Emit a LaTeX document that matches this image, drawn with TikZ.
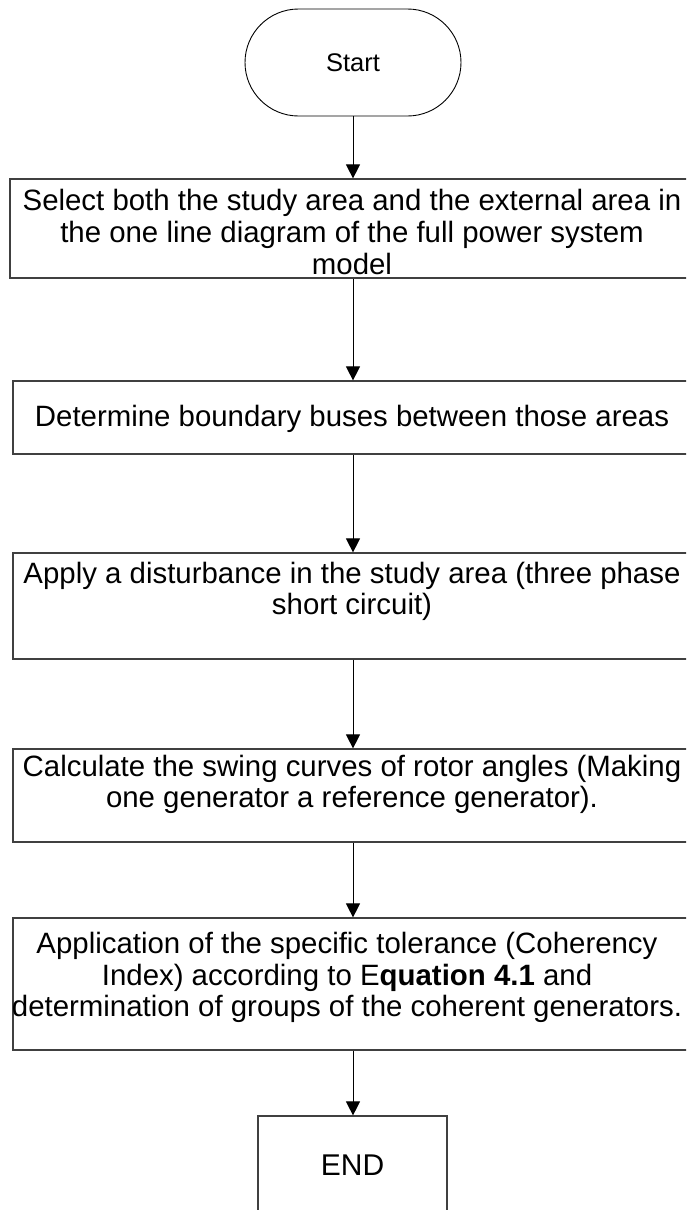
\documentclass[tikz,border=0pt]{standalone}
\usepackage{fontspec}
\setmainfont{Liberation Sans}
\usetikzlibrary{arrows.meta,shapes.misc}
\begin{document}
\begin{tikzpicture}[x=1pt,y=-1pt,
  stepbox/.style={draw=black!75,line width=1.2pt,minimum width=690pt,inner sep=0pt},
  boxtext/.style={align=center,inner sep=0pt,font=\fontsize{29.4}{31.6}\selectfont},
  flow/.style={-{Triangle[width=14pt,length=14pt]},line width=1pt}]
\clip (0,0) rectangle (686,1210);
\fill[white] (0,0) rectangle (686,1210);

% terminal at the top
\node[draw,line width=0.9pt,shape=rounded rectangle,minimum width=216pt,
      minimum height=107pt,inner sep=0pt,font=\fontsize{25.5}{30}\selectfont]
      (start) at (353,62.5) {Start};

% process steps (they run off the right edge)
\node[stepbox,minimum height=99pt]  (b1) at (355,228.5) {};
\node[stepbox,minimum height=73pt]  (b2) at (358,417.5) {};
\node[stepbox,minimum height=106pt] (b3) at (358,606) {};
\node[stepbox,minimum height=93pt]  (b4) at (358,795.5) {};
\node[stepbox,minimum height=132pt] (b5) at (358,984) {};
\node[draw=black!75,line width=1.2pt,minimum width=189pt,minimum height=130pt,
      inner sep=0pt] (endbox) at (352.5,1181) {};

% step texts
\node[boxtext] (t1) at (352,232) {Select both the study area and the external area in\\
  the one line diagram of the full power system\\ model};
\node[boxtext] (t2) at (352,419) {Determine boundary buses between those areas};
\node[boxtext] (t3) at (352,591.5) {Apply a disturbance in the study area (three phase\\
  short circuit)};
\node[boxtext] (t4) at (352,784.5) {Calculate the swing curves of rotor angles (Making\\
  one generator a reference generator).};
\node[boxtext] (t5) at (347,977.5) {Application of the specific tolerance (Coherency\\
  Index) according to E\textbf{quation 4.1} and\\
  determination of groups of the coherent generators.};
\node[inner sep=0pt,font=\fontsize{30}{34}\selectfont] (t6) at (352.5,1165) {END};

% connectors
\draw[flow] (start.south) -- (start.south |- b1.north);
\draw[flow] (b1.south -| start) -- (b2.north -| start);
\draw[flow] (b2.south -| start) -- (b3.north -| start);
\draw[flow] (b3.south -| start) -- (b4.north -| start);
\draw[flow] (b4.south -| start) -- (b5.north -| start);
\draw[flow] (b5.south -| start) -- (endbox.north -| start);
\end{tikzpicture}
\end{document}
